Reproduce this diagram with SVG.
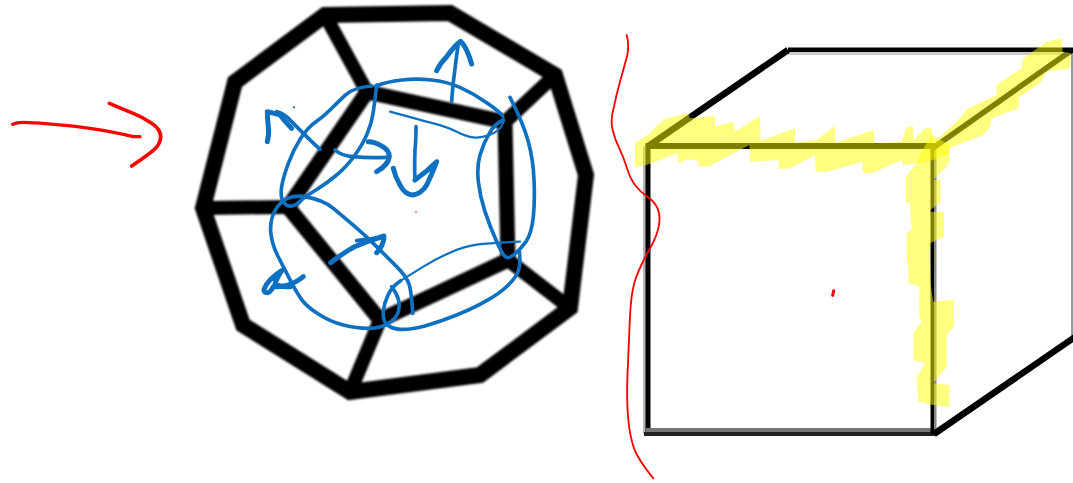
<svg xmlns="http://www.w3.org/2000/svg" width="1073" height="483" viewBox="0 0 1073 483">
<style>
.k{fill:none;stroke:#000;stroke-linejoin:miter}
.b{fill:none;stroke:#0e70c0;stroke-linecap:round;stroke-linejoin:round;stroke-width:11}
.t{stroke-width:6.500}
.h{stroke-width:15}
.r{fill:none;stroke:#f00;stroke-linecap:round;stroke-linejoin:round}
</style>
<defs><filter id="soft" x="-5%" y="-5%" width="110%" height="110%"><feGaussianBlur stdDeviation="0.8"/></filter></defs>
<rect width="1073" height="483" fill="#fff"/>
<g id="dodecahedron" filter="url(#soft)">
<polygon class="k" stroke-width="16" stroke-linejoin="round" points="325,15 450,13 555,75 586,175 570,308 480,375 350,392 243,325 203,208 235,82"/>
<polygon class="k" stroke-width="15" points="367,92 505,122 508,260 380,320 288,207"/>
<path class="k" stroke-width="14" d="M325 15L367 92M555 75L505 122M570 308L508 260M350 392L380 320"/>
<path class="k" stroke-width="14" d="M202 208L288 207"/>
</g>
<g id="blue-ink" transform="translate(180 0) scale(.33333)">
<path class="b" d="M575 258Q520 262 495 286Q470 310 450 330Q430 350 408 365Q385 380 362 415Q340 450 325 490Q310 530 305 560Q300 590 310 605Q320 620 335 618Q350 615 362 602Q375 590 408 570Q440 550 470 525Q500 500 525 465Q550 430 562 400Q575 370 580 335Q585 300 590 255"/>
<path class="b" d="M588 258Q620 245 665 240Q710 235 755 240Q800 245 840 262Q880 280 920 308Q960 335 968 348"/>
<path class="b t" d="M968 348Q975 360 965 378Q955 395 928 405Q900 415 880 412Q860 410 830 395Q800 380 760 370Q720 360 630 335"/>
<path class="b" d="M990 292Q1030 370 1045 425Q1060 480 1062 540Q1065 600 1060 650Q1055 700 1038 725Q1020 750 1002 764Q985 778 975 769Q965 760 948 720Q930 680 915 635Q900 590 895 545Q890 500 900 465Q910 430 928 400Q945 370 970 360"/>
<path class="b t" d="M1020 725Q930 728 890 734Q850 740 810 758Q770 775 730 800Q690 825 662 842"/>
<path class="b" d="M662 842Q635 860 624 885Q612 910 610 935Q608 960 619 972Q630 985 660 988Q690 990 735 978Q780 965 830 945Q880 925 920 902Q960 880 985 855Q1010 830 1016 810Q1022 790 1018 755"/>
<path class="b" d="M380 590Q345 585 322 595Q300 605 285 632Q270 660 272 695Q275 730 292 765Q310 800 328 835Q345 870 362 895Q380 920 415 942Q450 965 490 975Q530 985 565 985Q600 985 625 970Q650 955 655 935Q660 915 655 898Q650 880 635 860"/>
<path class="b" d="M375 590Q430 600 460 625Q490 650 525 680Q560 710 590 740Q620 770 650 800Q680 830 688 855Q695 880 698 940"/>
<path class="b" d="M815 305Q818 260 822 230Q828 180 835 130"/>
<path class="b h" d="M770 212Q780 190 800 170Q825 135 842 124Q860 140 875 192"/>
<path class="b" d="M420 448Q395 425 370 400Q345 375 320 350Q305 338 290 335"/>
<path class="b h" d="M262 425Q268 400 265 380Q262 355 262 335Q285 340 300 345Q320 370 335 385"/>
<path class="b" d="M465 450Q485 468 520 470Q560 474 620 472"/>
<path class="b h" d="M565 425Q585 425 605 438Q628 450 628 470Q625 495 590 515"/>
<path class="b" d="M708 380Q708 420 705 450Q703 500 705 540"/>
<path class="b h" d="M640 505Q645 530 660 555Q675 585 700 585Q725 580 740 555Q755 525 770 485Q740 515 705 540"/>
<path class="b h" d="M452 788Q485 762 520 742Q565 722 612 708Q612 735 590 758"/>
<path class="b" d="M530 722L605 712"/>
<path class="b h" d="M370 830Q345 850 320 856Q295 862 280 860Q270 878 262 878Q250 878 252 868Q262 840 305 812Q290 835 285 852Q305 862 330 860"/>
<circle cx="342" cy="322" r="3.500" fill="#0e70c0"/>
<circle cx="708" cy="635" r="3" fill="#f66"/>
</g>
<g id="red-arrow" transform="translate(0 90) scale(.33333)">
<path class="r" stroke-width="10" d="M38 103Q50 97 70 97Q120 98 170 104Q220 108 270 115Q340 125 400 140L420 140"/>
<path class="r" stroke-width="11" d="M328 40Q365 56 400 70Q430 82 455 100Q482 118 482 140Q482 165 455 185Q430 205 395 228"/>
</g>
<g id="cube">
<rect x="643" y="146" width="4" height="288" fill="#b4b4b4"/>
<rect x="645.500" y="143" width="5" height="293" fill="#000"/>
<rect x="646" y="143" width="288" height="6" fill="#000"/>
<rect x="646" y="428" width="288" height="4" fill="#777"/>
<rect x="644" y="432" width="291" height="4" fill="#222"/>
<rect x="930.500" y="146" width="4" height="288" fill="#000"/>
<rect x="934" y="146" width="2.500" height="288" fill="#888"/>
<rect x="788" y="47.500" width="285" height="5" fill="#000"/>
<rect x="788" y="52" width="283" height="3" fill="#ccc"/>
<rect x="1071" y="52" width="2" height="285" fill="#999"/>
<path class="k" stroke-width="6.500" d="M647 147L788 50"/>
<path class="k" stroke-width="5.500" d="M933 148L1072 50"/>
<path class="k" stroke-width="6.500" d="M934 434L1075 337"/>
</g>
<g id="highlight" transform="translate(600 20) scale(.33333)">
<g fill="#ff0" opacity=".5">
<path d="M105 370L150 340Q175 310 200 295L265 280L270 295L345 288L345 320L400 305L405 335L480 288L482 362L585 325L585 368L650 360L705 318L705 370L820 330L825 370L905 365L920 320L940 320L940 362L975 325L995 325L1000 370L1075 300L1100 268L1190 225L1190 195L1265 145L1270 115L1340 65L1385 55L1388 95L1413 100L1410 145L1340 155L1320 190L1258 230L1255 265L1175 295L1170 320L1150 345L1048 385L1048 425L1035 445L1000 480L1022 480L1022 545L985 575L1032 575L1032 650L990 670L990 740L992 795L1000 845L1062 840L1062 920L1040 945L1040 1040L1000 1090L1048 1095L1048 1160L1000 1155L955 1145L950 1075L975 1030L940 1020L940 940L965 905L958 890L958 810L960 800L925 790L925 745L920 715L920 640L935 630L930 550L918 548L918 470L950 430L910 435L905 420L815 460L788 460L788 425L680 455L647 455L645 405L570 445L536 447L536 420L450 425L448 375L420 390L325 440L297 438L295 422L262 418L235 430L232 400L140 435L105 440Z"/>
</g>
<path fill="#ff0" opacity=".5" d="M995 345L1048 375L1048 400L1000 420L952 430L965 395Z"/>
</g>
<g id="red-line" transform="translate(600 20) scale(.33333)">
<path class="r" stroke-width="5.500" d="M80 45Q88 70 82 105Q70 150 60 185Q50 220 42 260Q30 300 38 330Q45 360 58 385Q70 410 80 442Q90 475 105 495Q120 515 142 530Q165 545 174 568Q182 590 176 620Q170 650 150 685Q130 720 115 755Q100 790 95 830Q90 870 88 935Q85 1000 82 1075Q80 1150 85 1200Q90 1250 102 1285Q115 1320 160 1375"/>
<path class="r" stroke-width="9" d="M701 812L698 826"/>
</g>
</svg>
